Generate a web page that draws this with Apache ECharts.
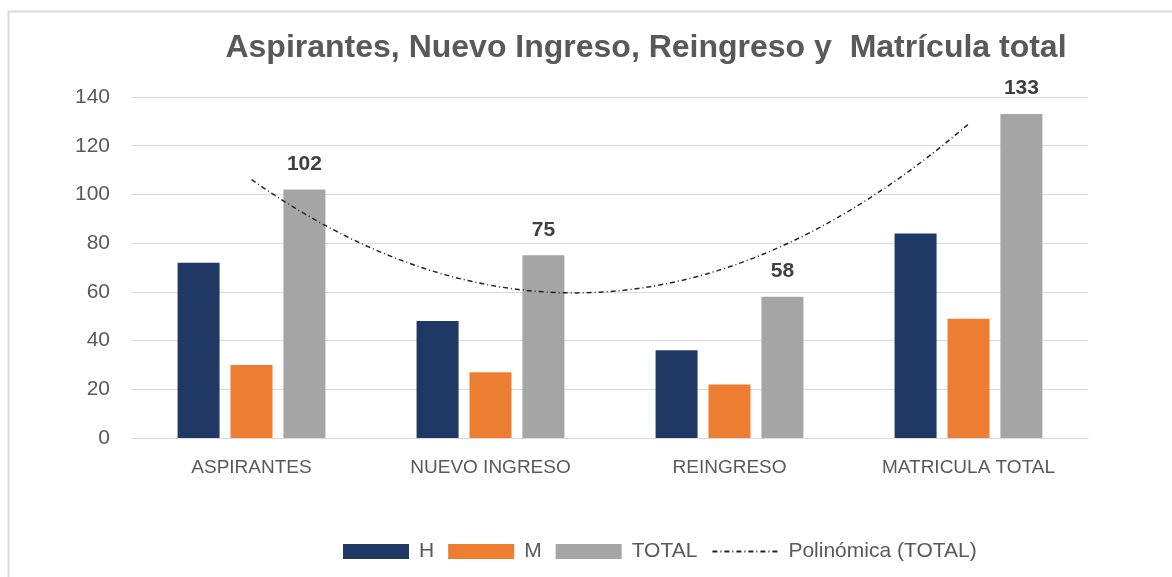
<!DOCTYPE html>
<html>
<head>
<meta charset="utf-8">
<script src="https://cdn.jsdelivr.net/npm/echarts@6/dist/echarts.min.js"></script>
<style>
html,body{margin:0;padding:0;background:#fff;}
#c{width:1172px;height:577px;}
</style>
</head>
<body>
<div id="c"></div>
<script>
const titleText = 'Aspirantes, Nuevo Ingreso, Reingreso y  Matrícula total';
const categories = ['ASPIRANTES', 'NUEVO INGRESO', 'REINGRESO', 'MATRICULA TOTAL'];
const H = [72, 48, 36, 84];
const M = [30, 27, 22, 49];
const TOTAL = [102, 75, 58, 133];
const yTicks = [0, 20, 40, 60, 80, 100, 120, 140];
const trendName = 'Polinómica (TOTAL)';

// Order-2 polynomial least-squares fit of TOTAL (as the Excel trendline does)
function polyFit2(ys) {
  const xs = ys.map((_, i) => i + 1);
  let S = [0,0,0,0,0], T = [0,0,0];
  xs.forEach((x, i) => {
    for (let k = 0; k < 5; k++) S[k] += Math.pow(x, k);
    for (let k = 0; k < 3; k++) T[k] += Math.pow(x, k) * ys[i];
  });
  const A = [[S[0],S[1],S[2],T[0]],[S[1],S[2],S[3],T[1]],[S[2],S[3],S[4],T[2]]];
  for (let i = 0; i < 3; i++) {
    for (let j = i + 1; j < 3; j++) {
      const f = A[j][i] / A[i][i];
      for (let k = i; k < 4; k++) A[j][k] -= f * A[i][k];
    }
  }
  const c = [0,0,0];
  for (let i = 2; i >= 0; i--) {
    let s = A[i][3];
    for (let k = i + 1; k < 3; k++) s -= A[i][k] * c[k];
    c[i] = s / A[i][i];
  }
  return c;
}
const coef = polyFit2(TOTAL);
const trend = [];
for (let i = 0; i <= 60; i++) {
  const x = 1 + i * 3 / 60;
  trend.push([x, coef[0] + coef[1] * x + coef[2] * x * x]);
}

const font = "'Liberation Sans', Arial, sans-serif";
const chart = echarts.init(document.getElementById('c'), null, {renderer: 'canvas'});
chart.setOption({
  animation: false,
  backgroundColor: '#fff',
  textStyle: {fontFamily: font},
  graphic: [{
    type: 'rect', left: 6, top: 9, silent: true,
    shape: {width: 1200, height: 620},
    style: {fill: 'none', stroke: '#d9d9d9', lineWidth: 2}
  }],
  title: {
    text: titleText,
    left: 641, top: 27, textAlign: 'center',
    textStyle: {fontFamily: font, fontSize: 32, fontWeight: 'bold', color: '#595959'}
  },
  grid: {left: 132, right: 84, top: 97, bottom: 139, containLabel: false},
  legend: {
    bottom: 10, left: 338,
    itemWidth: 66, itemHeight: 15, itemGap: 14,
    textStyle: {fontFamily: font, fontSize: 21, color: '#595959', padding: [0, 0, 0, 5]},
    data: [{name: 'H', icon: 'rect'}, {name: 'M', icon: 'rect'}, {name: 'TOTAL', icon: 'rect'}, {name: trendName}]
  },
  xAxis: [{
    type: 'category', data: categories,
    axisLine: {lineStyle: {color: '#d9d9d9', width: 1}},
    axisTick: {show: false},
    axisLabel: {fontFamily: font, fontSize: 19, color: '#595959', margin: 20}
  }, {
    type: 'value', min: 0.5, max: 4.5, show: false
  }],
  yAxis: {
    type: 'value', min: 0, max: 140, interval: 20,
    axisLine: {show: false}, axisTick: {show: false},
    splitLine: {lineStyle: {color: '#d9d9d9', width: 1}},
    axisLabel: {fontFamily: font, fontSize: 21, color: '#595959', margin: 22,
      formatter: v => yTicks.includes(v) ? String(v) : ''}
  },
  series: [
    {name: 'H', type: 'bar', data: H, barWidth: 42, barGap: '26%', itemStyle: {color: '#203864'}},
    {name: 'M', type: 'bar', data: M, barWidth: 42, barGap: '26%', itemStyle: {color: '#ed7d31'}},
    {name: 'TOTAL', type: 'bar', data: TOTAL, barWidth: 42, barGap: '26%', itemStyle: {color: '#a5a5a5'},
      label: {show: true, position: 'top', distance: 15, fontFamily: font, fontSize: 21, fontWeight: 'bold', color: '#404040'}},
    {name: trendName, type: 'line', xAxisIndex: 1, data: trend, symbol: 'none', smooth: false,
      itemStyle: {color: 'rgba(0,0,0,0)', borderWidth: 0},
      lineStyle: {color: '#262626', width: 1.5, type: [5, 3, 1, 3]}, z: 5}
  ]
});
</script>
</body>
</html>
